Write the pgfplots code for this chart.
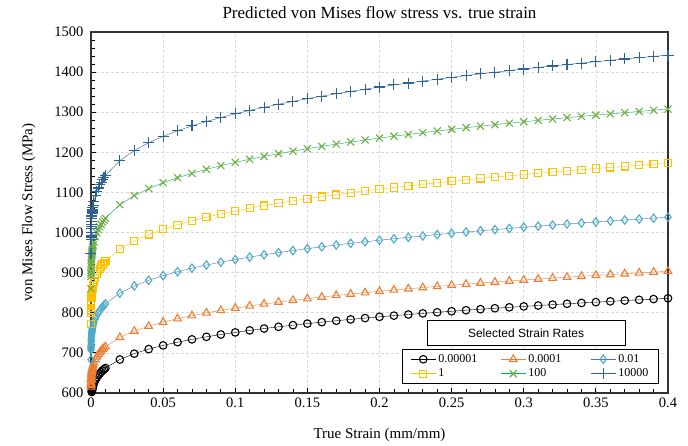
\documentclass[border=0pt]{standalone}
\usepackage{fontspec}
\setmainfont{Liberation Serif}
\setsansfont{Liberation Sans}
\usepackage{pgfplots}
\pgfplotsset{compat=1.18}
\usepackage{pgfplotstable}
\definecolor{lOrange}{HTML}{ED7D31}
\definecolor{lBlue}{HTML}{4472C4}
\definecolor{mCyan}{HTML}{4BACC6}
\definecolor{lGold}{HTML}{FFC000}
\definecolor{lGreen}{HTML}{00B050}
\definecolor{mGreen}{HTML}{70AD47}
\definecolor{lNavy}{HTML}{2F5C8F}
\definecolor{mNavy}{HTML}{2E6399}
\definecolor{gridc}{HTML}{D9D9D9}

% strain, then flow stress (MPa) for rates 1e-5, 1e-4, 1e-2, 1, 100, 1e4
\pgfplotstableread{
e r1 r2 r3 r4 r5 r6
0 550.0 594.3 683.0 771.7 860.3 948.9
0.00001 569.4 615.3 707.1 798.9 890.7 982.4
0.00002 573.1 619.3 711.7 804.1 896.4 988.8
0.00003 575.6 622.0 714.8 807.6 900.4 993.1
0.00005 579.2 625.9 719.3 812.6 906.0 999.3
0.0001 584.8 631.9 726.2 820.5 914.7 1009.0
0.00015 588.6 636.0 730.9 825.8 920.7 1015.5
0.0002 591.5 639.2 734.5 829.9 925.2 1020.5
0.0003 596.0 644.0 740.1 836.2 932.3 1028.3
0.0004 599.5 647.8 744.5 841.1 937.7 1034.3
0.0005 602.4 651.0 748.1 845.2 942.3 1039.3
0.0006 604.9 653.7 751.2 848.7 946.2 1043.6
0.0007 607.0 655.9 753.8 851.6 949.5 1047.3
0.0008 609.0 658.1 756.3 854.4 952.6 1050.7
0.0009 610.8 660.0 758.5 857.0 955.4 1053.8
0.001 612.4 661.8 760.5 859.2 957.9 1056.6
0.0012 615.4 665.0 764.2 863.4 962.6 1061.8
0.0015 619.2 669.1 768.9 868.7 968.6 1068.3
0.002 624.5 674.8 775.5 876.2 976.8 1077.4
0.003 632.5 683.5 785.4 887.4 989.4 1091.3
0.004 638.8 690.3 793.3 896.2 999.2 1102.1
0.005 644.0 695.9 799.7 903.5 1007.3 1111.1
0.006 648.4 700.7 805.2 909.7 1014.2 1118.7
0.007 652.4 705.0 810.1 915.3 1020.5 1125.6
0.008 655.9 708.8 814.5 920.2 1026.0 1131.6
0.009 659.1 712.2 818.5 924.7 1031.0 1137.1
0.01 662.1 715.5 822.2 928.9 1035.7 1142.3
0.02 683.6 738.7 848.9 959.1 1069.3 1179.4
0.03 698.1 754.4 866.9 979.4 1092.0 1204.4
0.04 709.4 766.6 880.9 995.3 1109.6 1223.9
0.05 718.7 776.6 892.5 1008.3 1124.2 1240.0
0.06 726.7 785.3 902.4 1019.6 1136.7 1253.8
0.07 733.7 792.8 911.1 1029.4 1147.7 1265.9
0.08 740.1 799.8 919.1 1038.4 1157.7 1276.9
0.09 745.8 805.9 926.1 1046.4 1166.6 1286.7
0.10 751.1 811.6 932.7 1053.8 1174.9 1295.9
0.11 756.1 817.0 938.9 1060.8 1182.7 1304.5
0.12 760.7 822.0 944.6 1067.3 1189.9 1312.4
0.13 765.0 826.7 950.0 1073.3 1196.6 1319.9
0.14 769.1 831.1 955.1 1079.0 1203.0 1326.9
0.15 773.0 835.3 959.9 1084.5 1209.1 1333.7
0.16 776.7 839.3 964.5 1089.7 1214.9 1340.0
0.17 780.2 843.1 968.9 1094.6 1220.4 1346.1
0.18 783.5 846.7 973.0 1099.3 1225.6 1351.8
0.19 786.8 850.2 977.0 1103.9 1230.7 1357.5
0.20 789.9 853.6 980.9 1108.2 1235.6 1362.8
0.21 792.9 856.8 984.6 1112.4 1240.3 1368.0
0.22 795.7 859.8 988.1 1116.4 1244.6 1372.8
0.23 798.5 862.9 991.6 1120.3 1249.0 1377.7
0.24 801.2 865.8 994.9 1124.1 1253.2 1382.3
0.25 803.8 868.6 998.2 1127.7 1257.3 1386.8
0.26 806.4 871.4 1001.4 1131.4 1261.4 1391.3
0.27 808.9 874.1 1004.5 1134.9 1265.3 1395.6
0.28 811.3 876.7 1007.5 1138.3 1269.0 1399.7
0.29 813.6 879.2 1010.3 1141.5 1272.6 1403.7
0.30 815.9 881.7 1013.2 1144.7 1276.2 1407.7
0.31 818.1 884.0 1015.9 1147.8 1279.7 1411.5
0.32 820.3 886.4 1018.6 1150.9 1283.1 1415.3
0.33 822.4 888.7 1021.3 1153.8 1286.4 1418.9
0.34 824.5 891.0 1023.9 1156.8 1289.7 1422.5
0.35 826.5 893.1 1026.3 1159.6 1292.8 1426.0
0.36 828.5 895.3 1028.8 1162.4 1295.9 1429.4
0.37 830.4 897.3 1031.2 1165.0 1298.9 1432.7
0.38 832.3 899.4 1033.5 1167.7 1301.9 1436.0
0.39 834.2 901.4 1035.9 1170.4 1304.9 1439.2
0.40 836.1 903.5 1038.3 1173.0 1307.8 1442.5
}\flow

\begin{document}
\begin{tikzpicture}
\begin{axis}[
  name=ax, scale only axis, width=577pt, height=361pt,
  xmin=0, xmax=0.4, ymin=600, ymax=1500,
  xtick={0,0.05,0.1,0.15,0.2,0.25,0.3,0.35,0.4},
  ytick={600,700,800,900,1000,1100,1200,1300,1400,1500},
  minor x tick num=4, minor y tick num=4,
  tick pos=left, tick align=inside,
  major tick length=5pt, minor tick length=4pt,
  tick style={black, line width=0.8pt},
  scaled x ticks=false,
  xticklabel style={/pgf/number format/fixed, /pgf/number format/precision=2, yshift=-1pt},
  yticklabel style={/pgf/number format/1000 sep={}, xshift=-4pt},
  /pgf/number format/assume math mode=true,
  ticklabel style={font=\fontsize{14.5}{17}\selectfont},
  xmajorgrids, ymajorgrids,
  major grid style={gridc, dash pattern=on 3pt off 2pt, line width=0.7pt},
  axis line style={black!80, line width=1.2pt},
  title={Predicted von Mises flow stress vs. true strain},
  title style={font=\fontsize{17}{19}\selectfont, yshift=4pt},
  xlabel={True Strain (mm/mm)},
  ylabel={von Mises Flow Stress (MPa)},
  xlabel style={yshift=-14pt},
  ylabel style={yshift=12pt},
  label style={font=\fontsize{15}{17}\selectfont},
  every plot/.append style={line width=1.1pt},
  legend image code/.code={\draw[mark repeat=2,mark phase=2,#1] plot coordinates {(0pt,0pt) (12.5pt,0pt) (25pt,0pt)};},
  legend columns=3,
  legend cell align=left,
  legend style={at={(axis description cs:0.984,0.025)}, anchor=south east,
    font=\fontsize{12}{14}\selectfont, draw=black, line width=1pt, fill=white,
    inner xsep=8pt, inner ysep=3pt, row sep=1pt,
    /tikz/column 2/.style={column sep=21pt},
    /tikz/column 4/.style={column sep=27pt}},
]
\addplot[black, mark=o, mark size=3.8pt, mark options={black, line width=1.1pt}] table[x=e, y=r1] {\flow};
\addplot[lOrange, mark=triangle, mark size=4.4pt, mark options={lOrange, line width=1.1pt}] table[x=e, y=r2] {\flow};
\addplot[lBlue, mark=diamond, mark size=4.2pt, mark options={mCyan, line width=1.1pt}] table[x=e, y=r3] {\flow};
\addplot[lGold, mark=square, mark size=3.6pt, mark options={lGold, line width=1.1pt}] table[x=e, y=r4] {\flow};
\addplot[lGreen, mark=x, mark size=5pt, mark options={mGreen, line width=1.1pt}] table[x=e, y=r5] {\flow};
\addplot[lNavy, mark=+, mark size=5.5pt, mark options={mNavy, line width=1.1pt}] table[x=e, y=r6] {\flow};
\legend{0.00001,0.0001,0.01,1,100,10000}
\node[draw=black, line width=1pt, fill=white, font=\sffamily\fontsize{12}{14}\selectfont,
  minimum width=198pt, minimum height=25pt, inner sep=0pt]
  at (axis description cs:0.754,0.165) {Selected Strain Rates};
\end{axis}
\path ([shift={(-91pt,-52pt)}]ax.south west) rectangle ([shift={(20pt,32pt)}]ax.north east);
\end{tikzpicture}
\end{document}
